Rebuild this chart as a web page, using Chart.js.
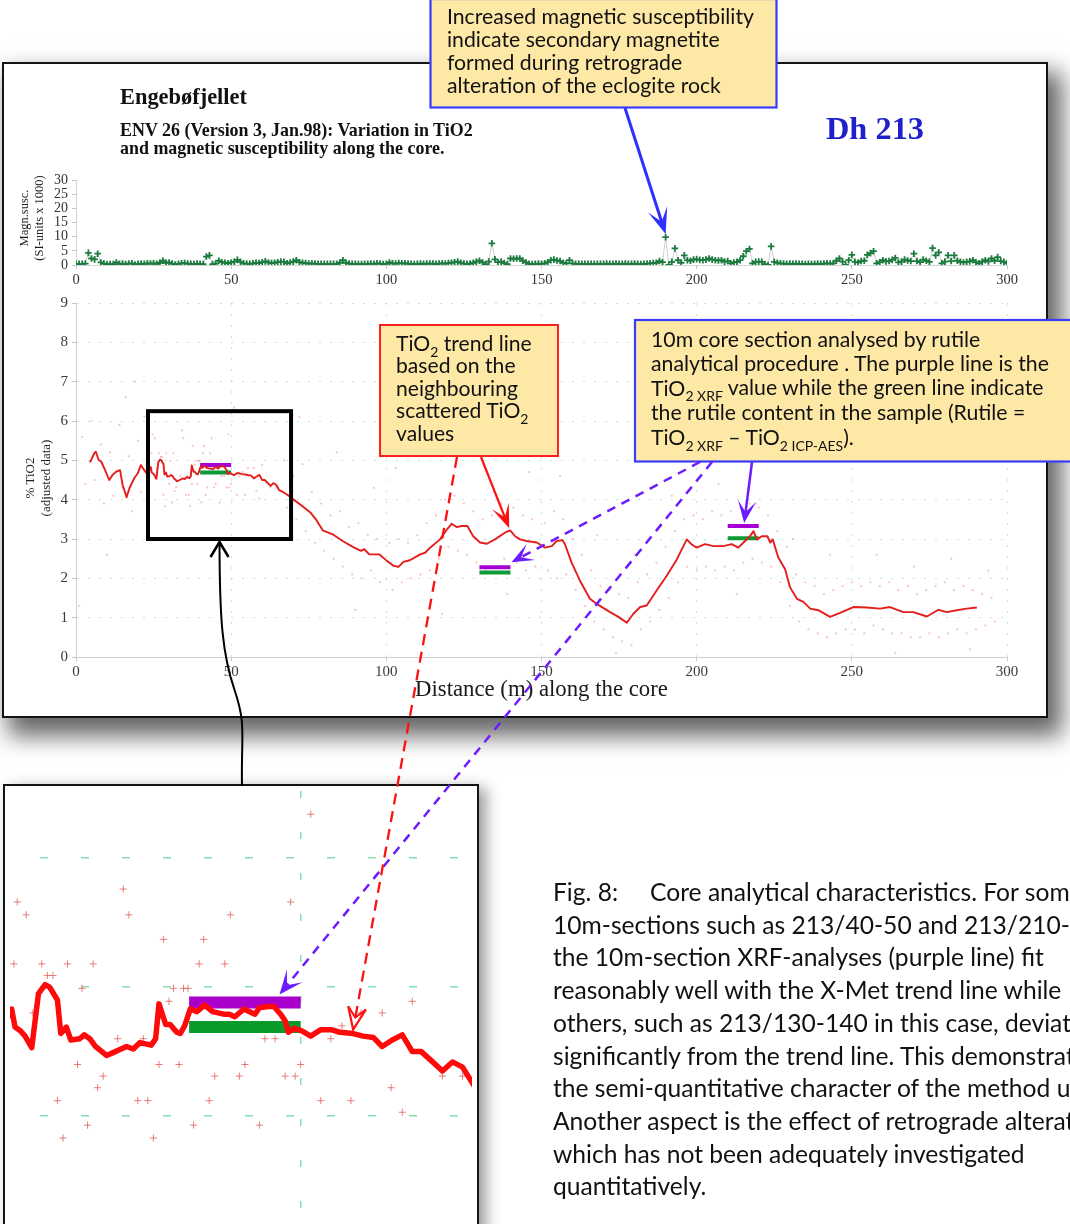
<!DOCTYPE html>
<html><head><meta charset="utf-8">
<script src="https://cdn.jsdelivr.net/npm/chart.js@4.4.1/dist/chart.umd.min.js"></script>
<style>
html,body{margin:0;padding:0;}
body{width:1070px;height:1224px;overflow:hidden;position:relative;background:#fff;}
.a{position:absolute}
#panel{left:2px;top:62px;width:1042px;height:652px;border:2px solid #141414;background:#fff;box-shadow:10px 14px 22px 4px rgba(0,0,0,0.6);z-index:1}
#inset{left:3px;top:784px;width:472px;height:460px;border:2px solid #141414;background:#fff;box-shadow:7px 4px 14px rgba(0,0,0,0.4);overflow:hidden;z-index:3}
#inset canvas{display:block}
canvas{z-index:2}
#ov{left:0;top:0;z-index:10;overflow:hidden;pointer-events:none}
</style></head>
<body>
<div id="panel" class="a"></div>
<canvas id="cTop" class="a" width="1040" height="122" style="left:0;top:168px"></canvas>
<canvas id="cMain" class="a" width="1040" height="410" style="left:0;top:290px"></canvas>
<div id="inset" class="a"><canvas id="cInset" width="472" height="440"></canvas></div>
<svg id="ov" class="a" width="1070" height="1224" xmlns="http://www.w3.org/2000/svg"></svg>
<script>
// ================= DATA =================
// magnetic susceptibility (SI-units x 1000), one reading per metre, index = distance (m)
const magSusc = [
0.4,0.4,0.4,0.5,4.3,2.3,2.0,4.0,0.9,0.5,0.3,0.3,0.3,0.9,0.4,0.5,0.3,0.5,0.6,0.2,
0.4,0.5,0.4,0.6,0.5,0.6,0.4,0.8,1.5,0.8,0.9,0.5,0.2,0.4,0.6,0.7,0.5,0.4,0.3,0.5,
0.4,0.3,3.0,3.4,0.3,0.5,1.5,1.0,0.8,0.6,0.9,1.2,1.8,1.1,0.6,0.5,0.4,0.6,0.8,0.7,
1.0,1.3,0.9,0.7,0.8,1.0,1.2,1.1,0.6,0.9,1.2,1.7,1.0,0.8,0.7,0.5,0.6,0.5,0.4,0.4,
0.4,0.4,0.4,0.4,0.4,0.8,1.7,0.8,0.5,0.4,0.4,0.3,0.3,0.4,0.4,0.5,0.4,0.6,0.5,0.3,
0.4,0.9,0.6,0.5,0.7,0.6,0.6,0.5,0.4,0.3,0.4,0.5,0.4,0.5,0.5,0.5,0.4,0.5,0.6,0.5,
0.7,0.8,1.0,1.2,0.8,0.5,0.4,0.5,0.8,1.2,1.5,0.9,0.3,1.2,7.7,2.0,1.0,1.2,0.7,0.3,
2.3,2.2,2.3,2.3,1.5,0.9,0.4,0.3,0.4,0.5,0.4,0.6,1.0,1.7,1.9,1.6,1.4,0.8,0.6,1.7,
0.6,0.4,0.4,0.4,0.4,0.4,0.4,0.4,0.4,0.4,0.4,0.5,0.4,0.4,0.5,0.4,0.4,0.5,0.4,0.4,
0.5,0.4,0.3,0.4,0.5,0.6,0.7,0.8,1.4,1.0,9.9,0.0,1.1,5.9,1.7,0.8,3.4,1.7,1.5,1.9,
2.1,1.8,1.7,1.9,2.3,1.9,1.7,1.6,1.7,1.2,1.4,0.6,0.9,1.1,1.7,3.1,4.9,5.7,0.6,1.1,
1.2,1.1,0.3,0.0,6.6,1.1,0.8,0.6,0.5,0.4,0.5,0.4,0.5,0.4,0.4,0.3,0.4,0.3,0.4,0.5,
0.4,0.5,0.6,0.5,0.6,1.5,2.3,1.2,0.0,1.7,3.6,1.1,0.9,1.4,1.5,3.6,4.2,4.9,0.6,1.0,
1.7,1.3,1.4,1.8,2.5,0.9,1.2,1.9,1.6,1.4,4.0,1.4,1.0,1.9,1.5,1.1,6.0,3.4,4.5,0.6,
1.2,3.4,1.4,3.4,1.5,1.1,0.9,1.1,1.3,1.7,1.0,0.6,1.2,1.7,1.3,2.3,1.5,2.8,1.4,1.1,0.6];

// TiO2 trend line (X-Met)
const trendDist = [4.5,5.9,6.4,7.3,8.1,9.1,10.7,11.8,12.9,14.2,15.0,16.3,17.2,18.8,19.9,20.9,22.0,22.8,23.5,
24.1,24.4,24.9,25.3,25.9,26.5,27.1,27.5,28.2,28.5,29.0,29.4,30.2,30.6,31.1,31.6,32.6,33.4,34.4,35.0,35.6,36.6,37.0,37.3,37.9,38.3,38.9,39.2,39.6,
40.1,40.7,41.4,42.1,43.1,43.6,44.1,44.9,45.9,46.3,47.1,47.6,48.2,48.6,48.9,49.4,50.1,50.9,51.8,52.7,53.5,54.7,55.6,56.5,57.3,58.2,59.1,60.0,60.8,61.7,62.7,63.6,64.5,65.5,
66.6,68.2,69.8,73.0,75.7,77.3,79.5,82.7,85.9,89.2,91.8,92.9,94.5,97.7,100.1,102.3,103.9,105.5,107.6,110.9,112.5,114.1,117.3,119.5,121.1,122.7,124.3,126.1,128.0,130.2,132.4,135.0,138.2,139.9,
141.5,143.1,145.2,148.5,151.1,153.3,154.9,156.8,157.6,159.7,162.4,165.6,167.8,172.1,174.8,177.5,179.6,181.8,183.9,187.1,190.4,193.6,196.8,198.4,200.0,202.7,205.4,208.6,211.3,213.4,
215.6,217.2,218.3,219.4,221.0,222.8,223.7,224.5,226.3,228.5,230.1,232.3,234.4,236.6,239.2,243.0,246.2,250.5,254.8,259.1,262.3,266.6,269.8,274.2,277.9,280.6,283.8,287.0,290.3];
const trendTiO2 = [4.95,5.18,5.22,5.01,4.97,4.80,4.50,4.63,4.71,4.75,4.38,4.06,4.29,4.55,4.67,4.88,4.75,4.67,4.72,
4.83,4.69,4.66,4.62,4.53,4.95,5.02,5.00,4.90,4.64,4.69,4.59,4.60,4.63,4.60,4.54,4.47,4.50,4.54,4.52,4.57,4.55,4.60,4.87,4.71,4.71,4.65,4.64,4.70,
4.83,4.81,4.86,4.81,4.79,4.79,4.77,4.83,4.79,4.84,4.85,4.85,4.79,4.74,4.65,4.68,4.66,4.62,4.67,4.67,4.65,4.64,4.62,4.61,4.54,4.59,4.63,4.50,4.50,4.43,4.35,4.42,4.38,4.24,
4.20,4.12,4.02,3.83,3.66,3.50,3.22,3.12,2.95,2.80,2.70,2.74,2.61,2.61,2.45,2.32,2.29,2.42,2.46,2.61,2.65,2.78,2.99,3.24,3.39,3.30,3.33,3.33,3.07,2.91,2.88,2.99,3.16,3.22,
3.07,2.99,2.95,2.91,2.78,2.82,2.95,2.97,2.86,2.40,1.94,1.48,1.35,1.14,1.02,0.87,1.10,1.27,1.31,1.69,2.07,2.48,2.99,2.86,2.78,2.87,2.82,2.82,2.87,2.78,
2.95,3.07,3.20,2.99,3.07,3.07,2.91,2.99,2.53,2.23,1.77,1.48,1.40,1.23,1.19,1.02,1.12,1.27,1.26,1.23,1.27,1.14,1.14,1.03,1.20,1.14,1.19,1.23,1.26];

// scattered TiO2 readings
const scatterDist = [50.9,34.1,24.6,49.1,25.4,34.6,43.7,37.7,41.3,24.3,26.8,29.1,31.4,40.9,43.2,27.3,27.8,30.4,38.6,39.5,39.9,60.0,38.2,26.0,57.3,55.4,42.7,53.7,33.6,35.9,46.8,47.7,52.7,30.0,37.3,39.1,45.0,50.0,32.3,42.3,44.5,48.6,49.5,62.7,64.5,31.8,58.1,28.2,35.4,36.3,41.8,51.8,54.5,59.1,30.9,40.4,46.3,28.7,36.8,
2,3,5,6,8,9,11,12,14,15,17,18,20,21,22,23,1,10,16,19,
67,68,70,71,73,74,76,77,79,80,82,83,85,86,88,89,91,92,94,95,97,98,72,84,90,96,
101,102,104,105,107,108,110,111,113,114,116,117,119,120,122,123,125,126,128,129,131,132,134,135,137,138,141,142,144,145,147,148,103,118,127,139,146,112,
151,152,154,155,157,158,160,161,163,164,166,167,169,170,172,173,175,176,178,179,181,182,184,185,187,188,190,191,193,194,196,197,199,156,168,180,192,174,
200,202,203,205,206,208,209,211,212,214,215,217,218,220,221,223,224,226,227,229,230,232,233,235,236,238,239,241,242,244,245,247,248,207,219,231,243,213,
250,251,253,254,256,257,259,260,262,263,265,266,268,269,271,272,274,275,277,278,280,281,283,284,286,287,289,290,292,293,295,296,258,270,282,294,264,288];
const scatterTiO2 = [6.34,5.76,5.66,5.66,5.56,5.56,5.56,5.37,5.37,5.18,5.18,5.18,5.18,5.18,5.18,5.09,5.09,4.99,4.99,4.99,4.99,4.89,4.89,4.80,4.80,4.80,4.70,4.70,4.60,4.60,4.60,4.60,4.60,4.40,4.40,4.40,4.40,4.40,4.31,4.31,4.31,4.31,4.31,4.31,4.31,4.22,4.22,4.12,4.12,4.12,4.12,4.12,4.12,4.03,3.93,3.93,3.93,3.83,3.83,
5.6,4.4,6.0,4.5,5.4,3.9,5.2,4.1,5.9,4.3,5.1,3.7,5.5,4.2,6.1,3.6,1.3,2.6,6.6,7.0,
5.0,3.8,4.6,3.5,4.9,3.2,4.2,2.9,3.9,2.7,3.6,2.5,3.7,2.3,3.3,2.1,3.4,2.0,3.1,2.2,3.0,1.9,6.1,5.2,1.2,4.3,
2.9,1.7,3.0,1.9,2.9,2.0,3.1,2.1,3.4,2.2,3.6,2.5,4.0,2.8,4.1,2.7,3.9,2.6,3.7,2.4,3.5,2.2,3.6,2.3,3.9,2.5,3.8,2.4,3.6,2.2,3.5,2.3,4.8,1.1,5.3,1.6,4.7,0.3,
3.4,2.2,3.7,2.0,3.5,2.1,3.0,1.7,2.6,1.3,2.2,0.9,1.8,0.7,1.7,0.5,1.6,0.4,1.5,0.3,1.9,0.7,2.1,0.9,2.4,1.2,2.8,1.5,3.2,1.9,3.5,2.3,3.6,4.6,3.1,2.6,4.1,0.1,
2.2,3.5,2.3,3.7,2.2,3.6,2.3,3.7,2.2,3.8,2.4,3.9,2.5,3.8,2.4,3.6,2.3,3.2,1.9,2.8,1.3,2.1,0.9,1.9,0.7,1.8,0.6,1.6,0.5,1.7,0.6,1.8,0.7,4.4,3.9,3.0,2.6,1.6,
1.9,0.7,1.8,0.6,1.9,0.8,1.8,0.7,1.9,0.6,1.7,0.6,1.8,0.5,1.6,0.5,1.7,0.6,1.8,0.5,1.9,0.6,1.7,0.7,1.8,0.6,1.7,0.7,1.6,0.8,1.5,0.9,2.6,2.3,2.5,2.2,0.1,0.2];

// 10 m core sections analysed by the rutile procedure
const sectionStart = [40, 130, 210];
const sectionEnd   = [50, 140, 220];
const tio2XRF      = [4.88, 2.28, 3.33];   // purple
const rutileTiO2   = [4.69, 2.15, 3.02];   // green

// axes / ticks
const magTicks = [0, 5, 10, 15, 20, 25, 30];
const tioTicks = [0, 1, 2, 3, 4, 5, 6, 7, 8, 9];
const distTicks = [0, 50, 100, 150, 200, 250, 300];
const zoomWindow = [23.2, 69.3, 3.0, 6.25];  // xmin,xmax,ymin,ymax of the enlarged box
const insetRangeX = [23.95, 65.35];
const insetRangeY = [3.187, 6.52];
const insetGridX = [50];
const insetGridY = [4, 5, 6];

// ================= BUILD =================
const magPts = magSusc.map((v, i) => ({x: i, y: v}));
const trendPts = trendDist.map((d, i) => ({x: d, y: trendTiO2[i]}));
const scatPts = scatterDist.map((d, i) => ({x: d, y: scatterTiO2[i]}));
function segs(vals) {
  const out = [];
  sectionStart.forEach((s, i) => { out.push({x: s, y: vals[i]}, {x: sectionEnd[i], y: vals[i]}, {x: sectionEnd[i] + 0.01, y: null}); });
  return out;
}
const serif = '"Liberation Serif","DejaVu Serif",serif';
const fixTicks = (vals) => (s) => { s.ticks = vals.map(v => ({value: v})); };

const topChart = new Chart(document.getElementById('cTop'), {
  type: 'line',
  data: {datasets: [{
    data: magPts, borderColor: '#cfcfcf', borderWidth: 1, pointStyle: 'cross', pointRadius: 3.3,
    pointBorderColor: '#1b7b3e', pointBorderWidth: 1.8, tension: 0
  }]},
  options: {
    responsive: false, animation: false, events: [],
    layout: {padding: {left: 0, right: 33, top: 9, bottom: 0}},
    plugins: {legend: {display: false}, tooltip: {enabled: false}},
    scales: {
      x: {type: 'linear', min: 0, max: 300, afterBuildTicks: fixTicks(distTicks),
          ticks: {padding: 2, color: '#333', font: {family: serif, size: 14.5}, maxRotation: 0, autoSkip: false},
          grid: {drawOnChartArea: false, tickLength: 4, tickColor: '#c8c8c8'},
          border: {color: '#d4d4d4'}, afterFit(s) { s.height = 25; }},
      y: {min: 0, max: 30, afterBuildTicks: fixTicks(magTicks),
          ticks: {padding: 4, color: '#333', font: {family: serif, size: 14}, autoSkip: false},
          grid: {drawOnChartArea: false, tickLength: 4, tickColor: '#c8c8c8'},
          border: {color: '#d4d4d4'}, afterFit(s) { s.width = 76; }}
    }
  }
});

const mainChart = new Chart(document.getElementById('cMain'), {
  type: 'line',
  data: {datasets: [
    {data: trendPts, borderColor: '#e41d1d', borderWidth: 1.9, pointRadius: 0, tension: 0, borderJoinStyle: 'round', order: 1},
    {data: segs(tio2XRF), borderColor: '#a600d4', borderWidth: 4, pointRadius: 0, spanGaps: false, borderCapStyle: 'butt', order: 2},
    {data: segs(rutileTiO2), borderColor: '#0b9a36', borderWidth: 4, pointRadius: 0, spanGaps: false, borderCapStyle: 'butt', order: 3},
    {data: scatPts, showLine: false, pointRadius: 1.1, pointBackgroundColor: 'rgba(238,120,120,0.45)', pointBorderWidth: 0, order: 4}
  ]},
  options: {
    responsive: false, animation: false, events: [],
    layout: {padding: {left: 0, right: 33, top: 10, bottom: 0}},
    plugins: {legend: {display: false}, tooltip: {enabled: false}},
    scales: {
      x: {type: 'linear', min: 0, max: 300, afterBuildTicks: fixTicks(distTicks),
          ticks: {padding: 2, color: '#3a3a3a', font: {family: serif, size: 15}, maxRotation: 0, autoSkip: false},
          grid: {color: 'rgba(130,210,165,0.5)', lineWidth: 1, tickLength: 4, tickColor: '#c4c4c4', tickBorderDash: []},
          border: {color: '#d0d0d0', dash: [2, 9]}, afterFit(s) { s.height = 43; }},
      y: {min: 0, max: 9, afterBuildTicks: fixTicks(tioTicks),
          ticks: {padding: 4, color: '#3a3a3a', font: {family: serif, size: 15}, autoSkip: false},
          grid: {color: 'rgba(130,210,165,0.5)', lineWidth: 1, tickLength: 4, tickColor: '#c4c4c4', tickBorderDash: []},
          border: {color: '#d0d0d0', dash: [2, 9]}, afterFit(s) { s.width = 76; }}
    }
  }
});

const insetChart = new Chart(document.getElementById('cInset'), {
  type: 'line',
  data: {datasets: [
    {data: trendPts, borderColor: '#ff0a0a', borderWidth: 5.5, pointRadius: 0, tension: 0, borderJoinStyle: 'round', borderCapStyle: 'round', order: 1},
    {data: segs(tio2XRF), borderColor: '#aa00cc', borderWidth: 12, pointRadius: 0, spanGaps: false, borderCapStyle: 'butt', order: 2},
    {data: segs(rutileTiO2), borderColor: '#0a9a2c', borderWidth: 12, pointRadius: 0, spanGaps: false, borderCapStyle: 'butt', order: 3},
    {data: scatPts, showLine: false, pointStyle: 'cross', pointRadius: 3.6, pointBorderColor: 'rgba(225,85,85,0.75)', pointBorderWidth: 1, order: 4}
  ]},
  options: {
    responsive: false, animation: false, events: [],
    layout: {padding: 0},
    plugins: {legend: {display: false}, tooltip: {enabled: false}},
    scales: {
      x: {type: 'linear', min: insetRangeX[0], max: insetRangeX[1], afterBuildTicks: fixTicks(insetGridX),
          ticks: {display: false}, grid: {color: 'rgba(110,220,160,0.85)', lineWidth: 1.5, drawTicks: false},
          border: {display: false, dash: [7, 34]}, afterFit(s) { s.height = 0; }},
      y: {min: insetRangeY[0], max: insetRangeY[1], afterBuildTicks: fixTicks(insetGridY),
          ticks: {display: false}, grid: {color: 'rgba(110,220,160,0.85)', lineWidth: 1.5, drawTicks: false},
          border: {display: false, dash: [8, 33], dashOffset: -30}, afterFit(s) { s.width = 0; }}
    }
  }
});

// ================= OVERLAY (text, boxes, arrows) =================
const NS = 'http://www.w3.org/2000/svg';
const svg = document.getElementById('ov');
function el(tag, attrs, parent) {
  const e = document.createElementNS(NS, tag);
  for (const k in attrs) e.setAttribute(k, attrs[k]);
  (parent || svg).appendChild(e);
  return e;
}
function addSegs(t, line) {
  const parts = Array.isArray(line) ? line : [line];
  let afterSub = false;
  parts.forEach(p => {
    const ts = el('tspan', {}, t);
    if (typeof p === 'string') {
      if (afterSub) ts.setAttribute('dy', '-0.28em');
      ts.textContent = p; afterSub = false;
    } else {
      ts.setAttribute('font-size', '0.66em');
      ts.setAttribute('dy', '0.42em');
      ts.textContent = p.s; afterSub = true;
    }
  });
}
function block(lines, x, baselines, opt) {
  const g = el('g', {'font-family': opt.family || 'Lato,"Noto Sans",sans-serif', 'font-size': opt.size,
                     fill: opt.color || '#111', 'font-weight': opt.weight || 'normal'});
  const texts = lines.map((ln, i) => { const t = el('text', {x: x, y: baselines[i]}, g); addSegs(t, ln); return t; });
  if (opt.target) {
    const w = texts[opt.ref || 0].getComputedTextLength();
    if (w > 0) g.setAttribute('font-size', (opt.size * opt.target / w).toFixed(2));
  }
  return g;
}
const P = (ch, left, top, x, y) => [left + ch.scales.x.getPixelForValue(x), top + ch.scales.y.getPixelForValue(y)];
const pTop = (x, y) => P(topChart, 0, 168, x, y);
const pMain = (x, y) => P(mainChart, 0, 290, x, y);
const pIn = (x, y) => P(insetChart, 5, 786, x, y);

// titles inside the main panel
block(['Engebøfjellet'], 120, [104], {family: serif, size: 22, weight: 'bold', target: 127});
block(['ENV 26 (Version 3, Jan.98): Variation in TiO2', 'and magnetic susceptibility along the core.'], 120, [136, 154],
      {family: serif, size: 16, weight: 'bold', target: 353});
block(['Dh 213'], 826, [139], {family: serif, size: 32, weight: 'bold', color: '#1f1fcc', target: 98});
block(['Distance (m) along the core'], 415, [696], {family: serif, size: 21.5, color: '#1a1a1a', target: 253});

// rotated axis titles
function rotTitle(lines, xs, cy, size) {
  lines.forEach((ln, i) => {
    const t = el('text', {x: 0, y: 0, 'font-family': serif, 'font-size': size, fill: '#222', 'text-anchor': 'middle',
                          transform: `translate(${xs[i]},${cy}) rotate(-90)`});
    addSegs(t, ln);
  });
}
rotTitle(['Magn.susc.', '(SI-units x 1000)'], [27.5, 42.5], 218, 12.5);
rotTitle(['% TiO2', '(adjusted data)'], [33.5, 50], 478, 13);

// enlarged-window frame on the main chart
const [zx1, zy1] = pMain(zoomWindow[0], zoomWindow[3]);
const [zx2, zy2] = pMain(zoomWindow[1], zoomWindow[2]);
el('rect', {x: zx1, y: zy1, width: zx2 - zx1, height: zy2 - zy1, fill: 'none', stroke: '#000', 'stroke-width': 4});

// annotation boxes
el('rect', {x: 430.5, y: -1, width: 346, height: 108.5, fill: '#fde8a6', stroke: '#3a3aff', 'stroke-width': 2.2});
block(['Increased magnetic susceptibility', 'indicate secondary magnetite', 'formed during retrograde', 'alteration of the eclogite rock'],
      447, [24, 47, 70, 93], {size: 19, target: 307});

el('rect', {x: 380, y: 325, width: 178, height: 131, fill: '#fde8a6', stroke: '#ff2020', 'stroke-width': 2});
block([['TiO', {s: '2'}, ' trend line'], 'based on the', 'neighbouring', ['scattered TiO', {s: '2'}], 'values'],
      396, [351, 373.4, 395.8, 418.2, 440.6], {size: 20, target: 122, ref: 2});

el('rect', {x: 635, y: 320, width: 450, height: 141.5, fill: '#fde8a6', stroke: '#3a3aff', 'stroke-width': 2.2});
block(['10m core section analysed by rutile', 'analytical procedure . The purple line is the',
       ['TiO', {s: '2 XRF'}, ' value while the green line indicate'], 'the rutile content in the sample (Rutile =',
       ['TiO', {s: '2 XRF'}, ' \u2013 TiO', {s: '2 ICP-AES'}, ').']],
      651, [346.5, 371, 395.5, 420, 445], {size: 19, target: 398, ref: 1});

// caption
const capBase = [901, 933.7, 966.4, 999.1, 1031.8, 1064.5, 1097.2, 1129.9, 1162.6, 1195.3];
const capG = block(['Fig. 8:', '10m-sections such as 213/40-50 and 213/210-220', 'the 10m-section XRF-analyses (purple line) fit',
       'reasonably well with the X-Met trend line while', 'others, such as 213/130-140 in this case, deviate',
       'significantly from the trend line. This demonstrates', 'the semi-quantitative character of the method used.',
       'Another aspect is the effect of retrograde alteration', 'which has not been adequately investigated', 'quantitatively.'],
      553, capBase, {size: 22, target: 491, ref: 2});
const ct = el('text', {x: 650, y: capBase[0]}, capG); ct.textContent = 'Core analytical characteristics. For some';

// arrows
function arrow(from, tip, o) {
  const dx = tip[0] - from[0], dy = tip[1] - from[1], len = Math.hypot(dx, dy);
  const ux = dx / len, uy = dy / len, vx = -uy, vy = ux;
  const L = o.L || 24, W = o.W || 9, nch = o.notch == null ? 0.5 : o.notch;
  const b1 = [tip[0] - L * ux + W * vx, tip[1] - L * uy + W * vy];
  const b2 = [tip[0] - L * ux - W * vx, tip[1] - L * uy - W * vy];
  const n = [tip[0] - nch * L * ux, tip[1] - nch * L * uy];
  el('line', {x1: from[0], y1: from[1], x2: n[0], y2: n[1], stroke: o.color, 'stroke-width': o.width || 2.5,
              'stroke-dasharray': o.dash || 'none'});
  if (o.open) {
    el('polyline', {points: `${b1} ${tip} ${b2}`, fill: 'none', stroke: o.color, 'stroke-width': 2.2});
    el('polyline', {points: `${b1} ${n} ${b2}`, fill: 'none', stroke: o.color, 'stroke-width': 2});
  } else {
    el('polygon', {points: `${tip} ${b1} ${n} ${b2}`, fill: o.color});
  }
}
// magnetite spike
const spike = pTop(190, magSusc[190]);
arrow([625, 108], [spike[0], spike[1] - 3], {color: '#2f2fff', width: 3, L: 26, W: 10});
// trend line arrow
const tr = pMain(139.6, 3.22);
arrow([481, 457], [tr[0], tr[1] - 2], {color: '#ff1010', width: 2.2, L: 24, W: 9});
// purple arrow to 210-220 section
const s3 = pMain((sectionStart[2] + sectionEnd[2]) / 2 + 0.3, tio2XRF[2]);
arrow([752, 462], [s3[0], s3[1] - 3], {color: '#6c1cff', width: 2.5, L: 22, W: 9});
// purple dashed to 130-140 section
const s2 = pMain(sectionEnd[1], tio2XRF[1]);
arrow([700, 462], [s2[0] + 1, s2[1] - 5], {color: '#6c1cff', width: 2.5, dash: '9 7', L: 22, W: 9});
// purple dashed into the inset
const s1 = pIn(48.1, tio2XRF[0]);
arrow([712, 462], [s1[0], s1[1] - 8], {color: '#6c1cff', width: 2.5, dash: '9 7', L: 24, W: 10});
// red dashed into the inset (trend line)
const ti = pIn(54.7, 4.64);
arrow([457, 457], [ti[0], ti[1] - 4], {color: '#ff1010', width: 2.3, dash: '11 7', L: 22, W: 9, open: true, notch: 0.55});
// black connector from window to inset
const bx = (zx1 + zx2) / 2, by = zy2 + 3;
el('path', {d: `M ${bx} ${by} C ${bx} 620, ${bx + 3} 655, ${bx + 15} 690 S 241 735, 242 786`, fill: 'none', stroke: '#000', 'stroke-width': 2});
el('polyline', {points: `${bx - 9},${by + 15} ${bx},${by} ${bx + 9},${by + 15}`, fill: 'none', stroke: '#000', 'stroke-width': 2.5});
</script>
</body></html>
